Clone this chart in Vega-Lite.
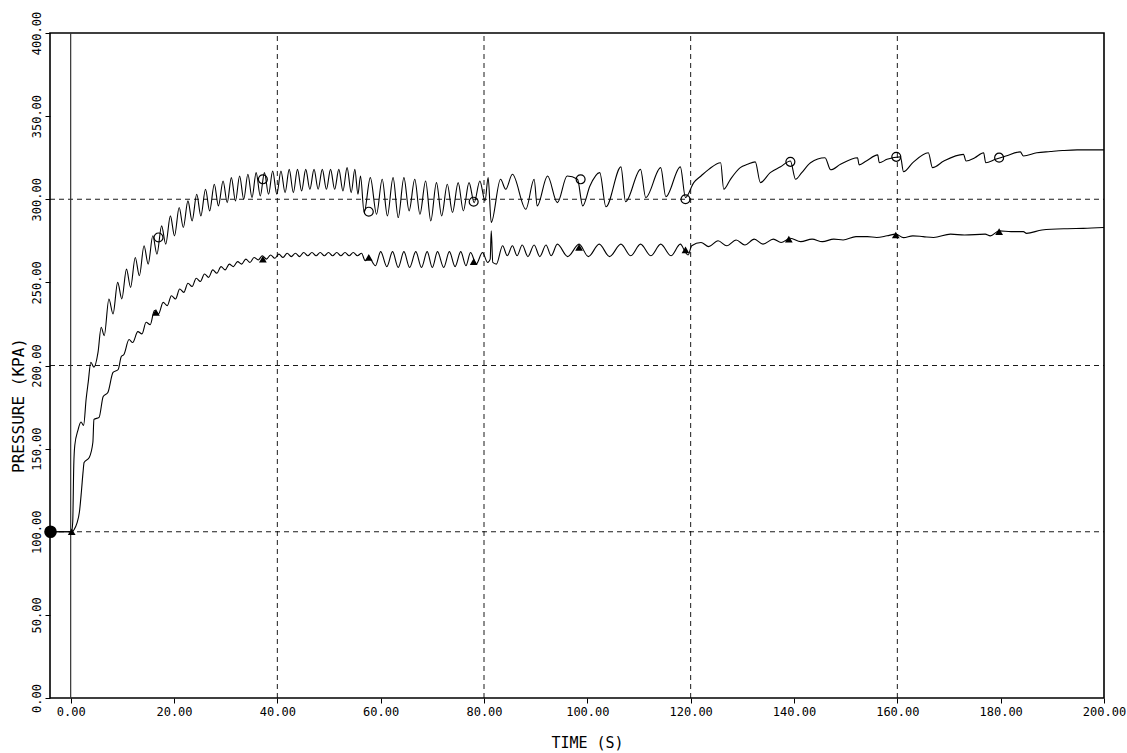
{
  "$schema": "https://vega.github.io/schema/vega-lite/v6.json",
  "width": 1054,
  "height": 665,
  "autosize": {"type": "none"},
  "padding": {"left": 50, "top": 33, "right": 23, "bottom": 55},
  "background": "white",
  "config": {
    "view": {"stroke": "black", "strokeWidth": 1.6},
    "axis": {"labelFont": "DejaVu Sans Mono", "titleFont": "DejaVu Sans Mono", "labelColor": "black", "titleColor": "black", "tickColor": "black", "titleFontWeight": "normal", "labelOverlap": false, "labelFlush": false, "labelBound": false}
  },
  "datasets": {
    "curves": [
      {"t": -4, "p": 100, "s": "A"}, {"t": 0.2, "p": 100, "s": "A"}, {"t": 0.4, "p": 106, "s": "A"}, {"t": 0.6, "p": 140, "s": "A"}, {"t": 0.8, "p": 152, "s": "A"}, {"t": 1.4, "p": 161, "s": "A"}, {"t": 2.0, "p": 166, "s": "A"}, {"t": 2.5, "p": 164, "s": "A"}, {"t": 3.0, "p": 180, "s": "A"}, {"t": 3.4, "p": 190, "s": "A"}, {"t": 3.9, "p": 202, "s": "A"}, {"t": 4.5, "p": 199, "s": "A"}, {"t": 5.3, "p": 208, "s": "A"}, {"t": 5.9, "p": 223, "s": "A"}, {"t": 6.5, "p": 218, "s": "A"}, {"t": 7.4, "p": 240, "s": "A"}, {"t": 8.2, "p": 231, "s": "A"}, {"t": 9.1, "p": 250, "s": "A"}, {"t": 9.9, "p": 240, "s": "A"}, {"t": 10.8, "p": 258, "s": "A"}, {"t": 11.6, "p": 247, "s": "A"}, {"t": 12.5, "p": 265, "s": "A"}, {"t": 13.3, "p": 254, "s": "A"}, {"t": 14.2, "p": 272, "s": "A"}, {"t": 15.0, "p": 261, "s": "A"}, {"t": 15.9, "p": 278, "s": "A"}, {"t": 16.7, "p": 267, "s": "A"}, {"t": 17.6, "p": 284, "s": "A"}, {"t": 18.4, "p": 273, "s": "A"}, {"t": 19.3, "p": 290, "s": "A"}, {"t": 20.1, "p": 278, "s": "A"}, {"t": 21.0, "p": 295, "s": "A"}, {"t": 21.8, "p": 283, "s": "A"}, {"t": 22.7, "p": 299, "s": "A"}, {"t": 23.5, "p": 287, "s": "A"}, {"t": 24.4, "p": 303, "s": "A"}, {"t": 25.2, "p": 290, "s": "A"}, {"t": 26.1, "p": 306, "s": "A"}, {"t": 26.9, "p": 293, "s": "A"}, {"t": 27.8, "p": 309, "s": "A"}, {"t": 28.6, "p": 296, "s": "A"}, {"t": 29.5, "p": 311, "s": "A"}, {"t": 30.3, "p": 298, "s": "A"}, {"t": 31.1, "p": 313, "s": "A"}, {"t": 31.9, "p": 299, "s": "A"}, {"t": 32.7, "p": 314, "s": "A"}, {"t": 33.5, "p": 300, "s": "A"}, {"t": 34.3, "p": 315, "s": "A"}, {"t": 35.1, "p": 301, "s": "A"}, {"t": 35.9, "p": 316, "s": "A"}, {"t": 36.7, "p": 302, "s": "A"}, {"t": 37.5, "p": 316, "s": "A"}, {"t": 38.3, "p": 303, "s": "A"}, {"t": 39.1, "p": 317, "s": "A"}, {"t": 39.9, "p": 303, "s": "A"}, {"t": 40.7, "p": 317, "s": "A"}, {"t": 41.5, "p": 304, "s": "A"}, {"t": 42.3, "p": 318, "s": "A"}, {"t": 43.1, "p": 304, "s": "A"}, {"t": 43.9, "p": 318, "s": "A"}, {"t": 44.7, "p": 305, "s": "A"}, {"t": 45.5, "p": 318, "s": "A"}, {"t": 46.3, "p": 306, "s": "A"}, {"t": 47.1, "p": 318, "s": "A"}, {"t": 47.9, "p": 306, "s": "A"}, {"t": 48.7, "p": 318, "s": "A"}, {"t": 49.5, "p": 306, "s": "A"}, {"t": 50.3, "p": 318, "s": "A"}, {"t": 51.1, "p": 306, "s": "A"}, {"t": 51.9, "p": 318, "s": "A"}, {"t": 52.7, "p": 305, "s": "A"}, {"t": 53.5, "p": 319, "s": "A"}, {"t": 54.3, "p": 304, "s": "A"}, {"t": 55.0, "p": 318, "s": "A"}, {"t": 55.6, "p": 303, "s": "A"}, {"t": 56.1, "p": 314, "s": "A"}, {"t": 56.8, "p": 292, "s": "A"}, {"t": 58.0, "p": 313, "s": "A"}, {"t": 59.2, "p": 291, "s": "A"}, {"t": 60.3, "p": 312, "s": "A"}, {"t": 61.3, "p": 290, "s": "A"}, {"t": 62.4, "p": 313, "s": "A"}, {"t": 63.4, "p": 289, "s": "A"}, {"t": 64.5, "p": 313, "s": "A"}, {"t": 65.5, "p": 293, "s": "A"}, {"t": 66.6, "p": 312, "s": "A"}, {"t": 67.6, "p": 291, "s": "A"}, {"t": 68.7, "p": 311, "s": "A"}, {"t": 69.7, "p": 287, "s": "A"}, {"t": 70.8, "p": 310, "s": "A"}, {"t": 71.8, "p": 290, "s": "A"}, {"t": 72.9, "p": 309, "s": "A"}, {"t": 73.9, "p": 292, "s": "A"}, {"t": 75.0, "p": 310, "s": "A"}, {"t": 76.0, "p": 293, "s": "A"}, {"t": 77.1, "p": 310, "s": "A"}, {"t": 78.1, "p": 298, "s": "A"}, {"t": 79.2, "p": 311, "s": "A"}, {"t": 80.2, "p": 299, "s": "A"}, {"t": 80.8, "p": 313, "s": "A"}, {"t": 81.4, "p": 286, "s": "A"}, {"t": 83.2, "p": 312, "s": "A"}, {"t": 84.2, "p": 306, "s": "A"}, {"t": 85.5, "p": 315, "s": "A"}, {"t": 88.1, "p": 294, "s": "A"}, {"t": 89.7, "p": 312, "s": "A"}, {"t": 90.3, "p": 296, "s": "A"}, {"t": 92.3, "p": 314, "s": "A"}, {"t": 94.2, "p": 298, "s": "A"}, {"t": 96.1, "p": 314, "s": "A"}, {"t": 98.1, "p": 312, "s": "A"}, {"t": 99.1, "p": 296, "s": "A"}, {"t": 100.5, "p": 308, "s": "A"}, {"t": 102.4, "p": 316, "s": "A"}, {"t": 103.6, "p": 295.5, "s": "A"}, {"t": 106.5, "p": 319.5, "s": "A"}, {"t": 107.4, "p": 298.5, "s": "A"}, {"t": 110.3, "p": 318, "s": "A"}, {"t": 111.3, "p": 301, "s": "A"}, {"t": 114.2, "p": 319, "s": "A"}, {"t": 115.2, "p": 301.5, "s": "A"}, {"t": 118.0, "p": 319.5, "s": "A"}, {"t": 119.0, "p": 301, "s": "A"}, {"t": 120.6, "p": 310, "s": "A"}, {"t": 122.0, "p": 314, "s": "A"}, {"t": 123.5, "p": 318, "s": "A"}, {"t": 125.8, "p": 322, "s": "A"}, {"t": 126.4, "p": 306, "s": "A"}, {"t": 127.7, "p": 312, "s": "A"}, {"t": 129.6, "p": 319, "s": "A"}, {"t": 131.0, "p": 321, "s": "A"}, {"t": 132.5, "p": 322.5, "s": "A"}, {"t": 133.5, "p": 310, "s": "A"}, {"t": 135.4, "p": 316, "s": "A"}, {"t": 137.4, "p": 319.5, "s": "A"}, {"t": 139.3, "p": 323, "s": "A"}, {"t": 140.3, "p": 312, "s": "A"}, {"t": 141.5, "p": 316, "s": "A"}, {"t": 143.2, "p": 322, "s": "A"}, {"t": 146.0, "p": 325, "s": "A"}, {"t": 147.1, "p": 317.7, "s": "A"}, {"t": 149.0, "p": 321, "s": "A"}, {"t": 152.3, "p": 325, "s": "A"}, {"t": 152.6, "p": 320.7, "s": "A"}, {"t": 154.0, "p": 323, "s": "A"}, {"t": 156.2, "p": 326.7, "s": "A"}, {"t": 156.5, "p": 322, "s": "A"}, {"t": 158.0, "p": 324, "s": "A"}, {"t": 160.6, "p": 325.5, "s": "A"}, {"t": 161.2, "p": 316.5, "s": "A"}, {"t": 163.0, "p": 322, "s": "A"}, {"t": 166.0, "p": 328, "s": "A"}, {"t": 166.8, "p": 319, "s": "A"}, {"t": 169.0, "p": 323, "s": "A"}, {"t": 172.8, "p": 327, "s": "A"}, {"t": 173.3, "p": 323, "s": "A"}, {"t": 175.0, "p": 325, "s": "A"}, {"t": 176.7, "p": 328, "s": "A"}, {"t": 177.1, "p": 322, "s": "A"}, {"t": 179.0, "p": 324, "s": "A"}, {"t": 181.0, "p": 326, "s": "A"}, {"t": 183.8, "p": 328.5, "s": "A"}, {"t": 184.4, "p": 326, "s": "A"}, {"t": 187.0, "p": 328, "s": "A"}, {"t": 189.6, "p": 328.7, "s": "A"}, {"t": 192.0, "p": 329.3, "s": "A"}, {"t": 194.8, "p": 329.7, "s": "A"}, {"t": 200, "p": 329.7, "s": "A"},
      {"t": -4, "p": 100, "s": "B"}, {"t": 0.3, "p": 100, "s": "B"}, {"t": 0.7, "p": 101.5, "s": "B"}, {"t": 1.2, "p": 105, "s": "B"}, {"t": 1.7, "p": 112, "s": "B"}, {"t": 2.1, "p": 125, "s": "B"}, {"t": 2.4, "p": 136, "s": "B"}, {"t": 2.6, "p": 141.7, "s": "B"}, {"t": 3.6, "p": 144.7, "s": "B"}, {"t": 4.3, "p": 153.8, "s": "B"}, {"t": 4.5, "p": 167.6, "s": "B"}, {"t": 5.5, "p": 168.8, "s": "B"}, {"t": 6.3, "p": 181.4, "s": "B"}, {"t": 7.2, "p": 183.8, "s": "B"}, {"t": 8.2, "p": 195.8, "s": "B"}, {"t": 9.2, "p": 197.6, "s": "B"}, {"t": 9.8, "p": 205.4, "s": "B"}, {"t": 10.3, "p": 206.6, "s": "B"}, {"t": 11.3, "p": 215.6, "s": "B"}, {"t": 12.0, "p": 213.8, "s": "B"}, {"t": 13.0, "p": 220.4, "s": "B"}, {"t": 13.8, "p": 219, "s": "B"}, {"t": 14.6, "p": 226, "s": "B"}, {"t": 15.4, "p": 224.5, "s": "B"}, {"t": 16.2, "p": 233, "s": "B"}, {"t": 17.0, "p": 231, "s": "B"}, {"t": 17.9, "p": 238, "s": "B"}, {"t": 18.7, "p": 236, "s": "B"}, {"t": 19.5, "p": 242, "s": "B"}, {"t": 20.3, "p": 240, "s": "B"}, {"t": 21.1, "p": 246, "s": "B"}, {"t": 21.9, "p": 244, "s": "B"}, {"t": 22.7, "p": 249.5, "s": "B"}, {"t": 23.5, "p": 247.5, "s": "B"}, {"t": 24.3, "p": 252.5, "s": "B"}, {"t": 25.1, "p": 250.5, "s": "B"}, {"t": 25.9, "p": 255, "s": "B"}, {"t": 26.7, "p": 253, "s": "B"}, {"t": 27.5, "p": 257.5, "s": "B"}, {"t": 28.3, "p": 255.5, "s": "B"}, {"t": 29.1, "p": 259.5, "s": "B"}, {"t": 29.9, "p": 257.5, "s": "B"}, {"t": 30.7, "p": 261, "s": "B"}, {"t": 31.5, "p": 259.5, "s": "B"}, {"t": 32.3, "p": 262.5, "s": "B"}, {"t": 33.1, "p": 261, "s": "B"}, {"t": 33.9, "p": 264, "s": "B"}, {"t": 34.7, "p": 262, "s": "B"}, {"t": 35.5, "p": 265, "s": "B"}, {"t": 36.3, "p": 263.5, "s": "B"}, {"t": 37.1, "p": 266, "s": "B"}, {"t": 37.9, "p": 264, "s": "B"}, {"t": 38.7, "p": 266.5, "s": "B"}, {"t": 39.5, "p": 264.5, "s": "B"}, {"t": 40.3, "p": 267, "s": "B"}, {"t": 41.1, "p": 265, "s": "B"}, {"t": 41.9, "p": 267.5, "s": "B"}, {"t": 42.7, "p": 265.5, "s": "B"}, {"t": 43.5, "p": 267.5, "s": "B"}, {"t": 44.3, "p": 265.5, "s": "B"}, {"t": 45.1, "p": 268, "s": "B"}, {"t": 45.9, "p": 266, "s": "B"}, {"t": 46.7, "p": 268, "s": "B"}, {"t": 47.5, "p": 266, "s": "B"}, {"t": 48.3, "p": 268, "s": "B"}, {"t": 49.1, "p": 266, "s": "B"}, {"t": 49.9, "p": 268, "s": "B"}, {"t": 50.7, "p": 266, "s": "B"}, {"t": 51.5, "p": 268, "s": "B"}, {"t": 52.3, "p": 266, "s": "B"}, {"t": 53.1, "p": 268, "s": "B"}, {"t": 53.9, "p": 266, "s": "B"}, {"t": 54.7, "p": 268, "s": "B"}, {"t": 55.5, "p": 266, "s": "B"}, {"t": 56.3, "p": 267.5, "s": "B"}, {"t": 57.0, "p": 263, "s": "B"}, {"t": 57.7, "p": 265, "s": "B"}, {"t": 59.0, "p": 260, "s": "B"}, {"t": 60.0, "p": 268.5, "s": "B"}, {"t": 61.2, "p": 259.5, "s": "B"}, {"t": 62.3, "p": 268.5, "s": "B"}, {"t": 63.4, "p": 259, "s": "B"}, {"t": 64.5, "p": 268.5, "s": "B"}, {"t": 65.6, "p": 259, "s": "B"}, {"t": 66.8, "p": 268.5, "s": "B"}, {"t": 67.9, "p": 259, "s": "B"}, {"t": 69.0, "p": 268.5, "s": "B"}, {"t": 70.0, "p": 259, "s": "B"}, {"t": 71.0, "p": 268.5, "s": "B"}, {"t": 72.2, "p": 259, "s": "B"}, {"t": 73.3, "p": 268.5, "s": "B"}, {"t": 74.4, "p": 259.5, "s": "B"}, {"t": 75.5, "p": 268.5, "s": "B"}, {"t": 76.5, "p": 260, "s": "B"}, {"t": 77.4, "p": 268, "s": "B"}, {"t": 78.5, "p": 261, "s": "B"}, {"t": 79.7, "p": 268, "s": "B"}, {"t": 80.7, "p": 262, "s": "B"}, {"t": 81.2, "p": 264, "s": "B"}, {"t": 81.4, "p": 281, "s": "B"}, {"t": 81.7, "p": 262, "s": "B"}, {"t": 82.4, "p": 261, "s": "B"}, {"t": 83.6, "p": 272, "s": "B"}, {"t": 84.5, "p": 266, "s": "B"}, {"t": 85.5, "p": 272, "s": "B"}, {"t": 86.4, "p": 266, "s": "B"}, {"t": 87.4, "p": 272.5, "s": "B"}, {"t": 88.5, "p": 265.5, "s": "B"}, {"t": 89.7, "p": 272.5, "s": "B"}, {"t": 90.8, "p": 265.5, "s": "B"}, {"t": 92.0, "p": 272.5, "s": "B"}, {"t": 93.0, "p": 266, "s": "B"}, {"t": 94.2, "p": 273, "s": "B"}, {"t": 96.2, "p": 265.5, "s": "B"}, {"t": 98.4, "p": 273, "s": "B"}, {"t": 100.2, "p": 265.5, "s": "B"}, {"t": 102.3, "p": 273, "s": "B"}, {"t": 104.3, "p": 265.5, "s": "B"}, {"t": 106.5, "p": 273, "s": "B"}, {"t": 108.4, "p": 266, "s": "B"}, {"t": 110.3, "p": 273, "s": "B"}, {"t": 112.3, "p": 266, "s": "B"}, {"t": 114.2, "p": 273, "s": "B"}, {"t": 116.2, "p": 266, "s": "B"}, {"t": 118.0, "p": 273, "s": "B"}, {"t": 119.0, "p": 268, "s": "B"}, {"t": 119.5, "p": 266.5, "s": "B"}, {"t": 120.2, "p": 272, "s": "B"}, {"t": 122.0, "p": 274, "s": "B"}, {"t": 123.5, "p": 271.5, "s": "B"}, {"t": 125.3, "p": 275, "s": "B"}, {"t": 127.0, "p": 272, "s": "B"}, {"t": 128.8, "p": 275.5, "s": "B"}, {"t": 130.5, "p": 272.5, "s": "B"}, {"t": 132.3, "p": 276, "s": "B"}, {"t": 134.0, "p": 273, "s": "B"}, {"t": 136.0, "p": 276, "s": "B"}, {"t": 137.5, "p": 274, "s": "B"}, {"t": 139.3, "p": 276.5, "s": "B"}, {"t": 141.3, "p": 274.5, "s": "B"}, {"t": 143.5, "p": 276, "s": "B"}, {"t": 145.5, "p": 274.5, "s": "B"}, {"t": 147.7, "p": 276, "s": "B"}, {"t": 149.5, "p": 275.5, "s": "B"}, {"t": 152.0, "p": 277.5, "s": "B"}, {"t": 154.2, "p": 277.5, "s": "B"}, {"t": 156.0, "p": 277, "s": "B"}, {"t": 158.0, "p": 278, "s": "B"}, {"t": 159.7, "p": 279, "s": "B"}, {"t": 161.2, "p": 276.9, "s": "B"}, {"t": 163.0, "p": 278, "s": "B"}, {"t": 165.0, "p": 277.5, "s": "B"}, {"t": 167.0, "p": 277, "s": "B"}, {"t": 170.3, "p": 279, "s": "B"}, {"t": 173.0, "p": 278.5, "s": "B"}, {"t": 177.0, "p": 279, "s": "B"}, {"t": 178.0, "p": 278, "s": "B"}, {"t": 179.7, "p": 281, "s": "B"}, {"t": 182.0, "p": 280.5, "s": "B"}, {"t": 184.4, "p": 280.5, "s": "B"}, {"t": 185.0, "p": 279.5, "s": "B"}, {"t": 188.0, "p": 281.5, "s": "B"}, {"t": 192.9, "p": 282.3, "s": "B"}, {"t": 196.0, "p": 282.5, "s": "B"}, {"t": 200, "p": 283, "s": "B"}
    ],
    "marks": [
      {"t": 17.0, "p": 277, "m": "c"}, {"t": 37.2, "p": 312, "m": "c"}, {"t": 57.7, "p": 292.5, "m": "c"}, {"t": 78.0, "p": 298.5, "m": "c"}, {"t": 98.7, "p": 312, "m": "c"}, {"t": 119.0, "p": 300, "m": "c"}, {"t": 139.3, "p": 322.5, "m": "c"}, {"t": 159.8, "p": 325.5, "m": "c"}, {"t": 179.7, "p": 325, "m": "c"},
      {"t": 16.5, "p": 232, "m": "tr"}, {"t": 37.2, "p": 264, "m": "tr"}, {"t": 57.7, "p": 265, "m": "tr"}, {"t": 78.0, "p": 262.5, "m": "tr"}, {"t": 98.4, "p": 271, "m": "tr"}, {"t": 119.0, "p": 269.5, "m": "tr"}, {"t": 139.0, "p": 276, "m": "tr"}, {"t": 159.7, "p": 278.5, "m": "tr"}, {"t": 179.7, "p": 280.5, "m": "tr"}, {"t": 0.2, "p": 100, "m": "tr"},
      {"t": -3.9, "p": 100, "m": "d"}
    ],
    "vgrid": [{"t": 40, "p": 0, "p2": 400}, {"t": 80, "p": 0, "p2": 400}, {"t": 120, "p": 0, "p2": 400}, {"t": 160, "p": 0, "p2": 400}],
    "hgrid": [{"t": -4, "t2": 200, "p": 100}, {"t": -4, "t2": 200, "p": 200}, {"t": -4, "t2": 200, "p": 300}],
    "zline": [{"t": 0, "p": 0, "p2": 400}]
  },
  "encoding": {
    "x": {"field": "t", "type": "quantitative", "title": "TIME (S)",
      "scale": {"domain": [-4, 200], "nice": false, "zero": false},
      "axis": {"values": [0, 20, 40, 60, 80, 100, 120, 140, 160, 180, 200], "format": ".2f", "grid": false, "domain": false, "tickSize": 5, "labelPadding": 3, "labelFontSize": 12, "titleFontSize": 15, "titleX": 537, "titleY": 44, "titleBaseline": "middle", "titleAlign": "center"}},
    "y": {"field": "p", "type": "quantitative", "title": "PRESSURE (KPA)",
      "scale": {"domain": [0, 400], "nice": false, "zero": false},
      "axis": {"values": [0, 50, 100, 150, 200, 250, 300, 350, 400], "format": ".2f", "grid": false, "domain": false, "tickSize": 5, "labelAngle": 270, "labelAlign": "center", "labelBaseline": "bottom", "labelPadding": 2, "labelFontSize": 12, "titleFontSize": 16, "titleAngle": 270, "titleX": -32, "titleY": 372, "titleAlign": "center", "titleBaseline": "middle"}}
  },
  "layer": [
    {"data": {"name": "vgrid"}, "mark": {"type": "rule", "color": "black", "strokeWidth": 0.9, "strokeDash": [5, 4]}, "encoding": {"y2": {"field": "p2"}}},
    {"data": {"name": "hgrid"}, "mark": {"type": "rule", "color": "black", "strokeWidth": 0.9, "strokeDash": [5, 4]}, "encoding": {"x2": {"field": "t2"}}},
    {"data": {"name": "zline"}, "mark": {"type": "rule", "color": "#333333", "strokeWidth": 1.2}, "encoding": {"y2": {"field": "p2"}}},
    {"data": {"name": "curves"}, "mark": {"type": "line", "color": "black", "strokeWidth": 1.1, "interpolate": "monotone"}, "encoding": {"detail": {"field": "s"}}},
    {"data": {"name": "marks"}, "transform": [{"filter": "datum.m == 'c'"}], "mark": {"type": "point", "shape": "circle", "filled": false, "stroke": "black", "strokeWidth": 1.2, "size": 80, "opacity": 1}},
    {"data": {"name": "marks"}, "transform": [{"filter": "datum.m == 'tr'"}], "mark": {"type": "point", "shape": "triangle-up", "filled": true, "color": "black", "size": 60, "opacity": 1}},
    {"data": {"name": "marks"}, "transform": [{"filter": "datum.m == 'd'"}], "mark": {"type": "point", "shape": "circle", "filled": true, "color": "black", "size": 160, "opacity": 1}}
  ]
}
